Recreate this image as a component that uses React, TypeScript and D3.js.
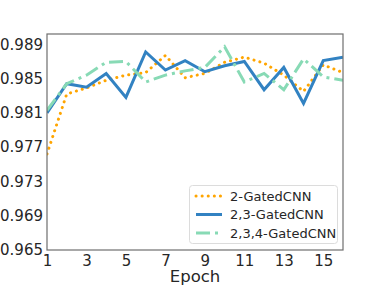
import React, { useEffect, useRef } from 'react';
import * as d3 from 'd3';

const epochs = [1, 2, 3, 4, 5, 6, 7, 8, 9, 10, 11, 12, 13, 14, 15, 16];
const gated2 = [0.9762, 0.9832, 0.9839, 0.9848, 0.9854, 0.9857, 0.9877, 0.9851, 0.9856, 0.9869, 0.9875, 0.9868, 0.9854, 0.9835, 0.9866, 0.9857];
const gated23 = [0.9810, 0.9844, 0.9840, 0.9856, 0.9828, 0.9881, 0.9860, 0.9871, 0.9858, 0.9865, 0.9870, 0.9837, 0.9863, 0.9821, 0.9871, 0.9875];
const gated234 = [0.9813, 0.9844, 0.9854, 0.9869, 0.9870, 0.9846, 0.9854, 0.9859, 0.9863, 0.9887, 0.9846, 0.9856, 0.9837, 0.9873, 0.9852, 0.9848];
const yTicks = [0.965, 0.969, 0.973, 0.977, 0.981, 0.985, 0.989];
const xTicks = [1, 3, 5, 7, 9, 11, 13, 15];

const series = [
  { name: '2-GatedCNN', values: gated2, color: '#ffa500', dash: '0.1 6', cap: 'round' },
  { name: '2,3-GatedCNN', values: gated23, color: '#3282c2', dash: null, cap: 'butt' },
  { name: '2,3,4-GatedCNN', values: gated234, color: '#88dab5', dash: '14 5 3 5', cap: 'butt' },
];

const App = () => {
  const svgRef = useRef<SVGSVGElement>(null);

  useEffect(() => {
    const w = 382;
    const h = 287;
    const m = { left: 47, right: 39, top: 34, bottom: 37 };
    const font = 'DejaVu Sans, sans-serif';

    const svg = d3.select(svgRef.current);
    svg.selectAll('*').remove();
    svg.attr('width', w).attr('height', h);

    const x = d3.scaleLinear().domain([1, 16]).range([m.left, w - m.right]);
    const y = d3.scaleLinear().domain([0.965, 0.9902]).range([h - m.bottom, m.top]);

    svg.append('clipPath').attr('id', 'plotclip')
      .append('rect')
      .attr('x', m.left).attr('y', m.top)
      .attr('width', w - m.left - m.right).attr('height', h - m.top - m.bottom);

    const line = d3.line<number>()
      .x((d, i) => x(epochs[i]))
      .y(d => y(d));

    const g = svg.append('g').attr('clip-path', 'url(#plotclip)');
    series.forEach(s => {
      g.append('path')
        .datum(s.values)
        .attr('d', line)
        .attr('fill', 'none')
        .attr('stroke', s.color)
        .attr('stroke-width', 3)
        .attr('stroke-linecap', s.cap)
        .attr('stroke-linejoin', 'miter')
        .attr('stroke-dasharray', s.dash);
    });

    // frame
    svg.append('rect')
      .attr('x', m.left).attr('y', m.top)
      .attr('width', w - m.left - m.right).attr('height', h - m.top - m.bottom)
      .attr('fill', 'none')
      .attr('stroke', '#6e6e6e')
      .attr('stroke-width', 1.2);

    const yAxis = d3.axisLeft(y).tickValues(yTicks).tickSize(0).tickPadding(4)
      .tickFormat(d3.format('.3f'));
    const ya = svg.append('g').attr('transform', `translate(${m.left},0)`).call(yAxis);
    ya.select('.domain').remove();
    ya.selectAll('text').attr('font-family', font).attr('font-size', 15).attr('fill', '#262626');

    const xAxis = d3.axisBottom(x).tickValues(xTicks).tickSize(0).tickPadding(5)
      .tickFormat(d3.format('d'));
    const xa = svg.append('g').attr('transform', `translate(0,${h - m.bottom})`).call(xAxis);
    xa.select('.domain').remove();
    xa.selectAll('text').attr('font-family', font).attr('font-size', 15).attr('fill', '#262626');

    svg.append('text')
      .attr('x', (m.left + w - m.right) / 2)
      .attr('y', 282)
      .attr('text-anchor', 'middle')
      .attr('font-family', font)
      .attr('font-size', 16.5)
      .attr('fill', '#262626')
      .text('Epoch');

    // legend
    const lg = svg.append('g');
    lg.append('rect')
      .attr('x', 189.5).attr('y', 185.5)
      .attr('width', 148).attr('height', 58)
      .attr('rx', 3)
      .attr('fill', 'white')
      .attr('fill-opacity', 0.85)
      .attr('stroke', '#dcdcdc');
    series.forEach((s, i) => {
      const ly = 196 + i * 18.5;
      lg.append('line')
        .attr('x1', 196).attr('x2', 222)
        .attr('y1', ly).attr('y2', ly)
        .attr('stroke', s.color)
        .attr('stroke-width', 3)
        .attr('stroke-linecap', s.cap)
        .attr('stroke-dasharray', s.dash);
      lg.append('text')
        .attr('x', 230).attr('y', ly)
        .attr('dy', '0.35em')
        .attr('font-family', font)
        .attr('font-size', 13)
        .attr('fill', '#262626')
        .text(s.name);
    });
  }, []);

  return <svg ref={svgRef} style={{ position: 'absolute', left: 0, top: 0 }}></svg>;
};

export default App;
